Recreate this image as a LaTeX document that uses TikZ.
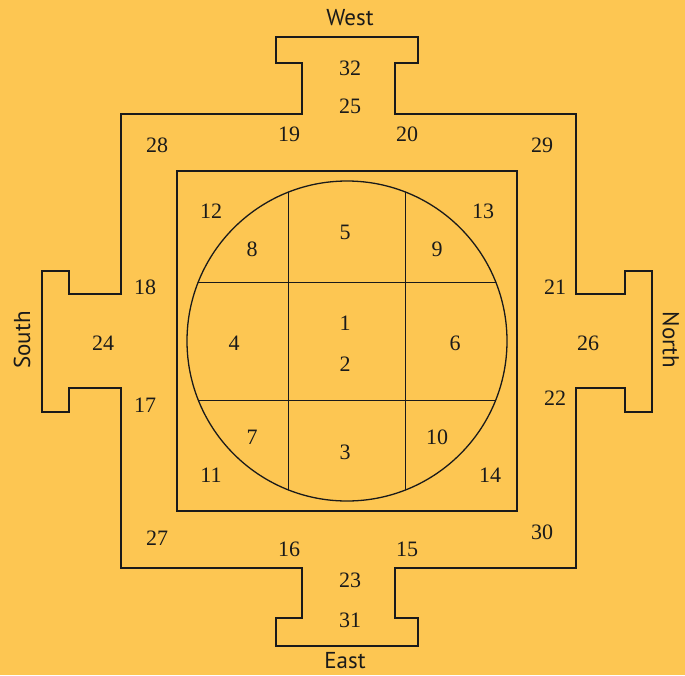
\documentclass[tikz,border=0pt]{standalone}
\usepackage{fontspec}
\setmainfont{Liberation Serif}
\newfontfamily\dirfont{PT Sans}
\usepackage{xcolor}
\usepackage{tikz}
\usetikzlibrary{positioning}
\definecolor{mBack}{HTML}{FDC652}
\definecolor{mInk}{HTML}{1A1A1A}

\begin{document}
\begin{tikzpicture}[x=1pt, y=-1pt, line width=1.3pt, line join=miter,
    num/.style={font=\fontsize{22}{25}\selectfont, text=mInk, inner sep=0pt},
    dir/.style={font=\dirfont\fontsize{23}{26}\selectfont, text=mInk, inner sep=0pt}]
      \useasboundingbox (0,0) rectangle (685,675);
      \fill[mBack] (0,0) rectangle (685,675);
      % outer wall with four gates
      \draw[mInk] (121,114) -- (302,114) -- (302,63) -- (276,63) -- (276,37)
        -- (418,37) -- (418,63) -- (395,63) -- (395,114) -- (576,114)
        -- (576,294) -- (625,294) -- (625,271) -- (652,271) -- (652,412)
        -- (625,412) -- (625,388) -- (576,388) -- (576,568) -- (395,568)
        -- (395,618) -- (418,618) -- (418,646) -- (276,646) -- (276,618)
        -- (302,618) -- (302,568) -- (121,568) -- (121,388) -- (69,388)
        -- (69,412) -- (42,412) -- (42,271) -- (69,271) -- (69,294)
        -- (121,294) -- cycle;
      % inner square and circle
      \draw[mInk] (177,171) rectangle (517,511);
      \draw[mInk] (347,341) circle (160);
      \begin{scope}
        \clip (347,341) circle (160);
        \foreach \x in {288.5, 405.5}
          \draw[mInk] (\x,170) -- (\x,512);
        \foreach \y in {282.5, 400.5}
          \draw[mInk] (176,\y) -- (518,\y);
      \end{scope}
      % numbers
      \foreach \x/\y/\t in {350/68/32, 350/106/25, 289/134/19, 407/134/20,
          157/145/28, 542/145/29, 211/211/12, 483/211/13, 345/232/5,
          252/249/8, 437/249/9, 145/287/18, 555/287/21, 345/323/1,
          234/343/4, 455/343/6, 103/343/24, 588/343/26, 345/364/2,
          145/405/17, 555/398/22, 252/437/7, 437/437/10, 345/452/3,
          211/475/11, 490/475/14, 157/538/27, 542/532/30, 289/549/16,
          407/549/15, 350/580/23, 350/620/31} {
        \node[num] (n\t) at (\x,\y) {\t};
      }
      % directions
      \node[dir] (west) at (350,18) {West};
      \node[dir] (east) at (345,661) {East};
      \node[dir, rotate=90] (south) at (22,340) {South};
      \node[dir, rotate=-90] (north) at (671,340) {North};
    \end{tikzpicture}
\end{document}
